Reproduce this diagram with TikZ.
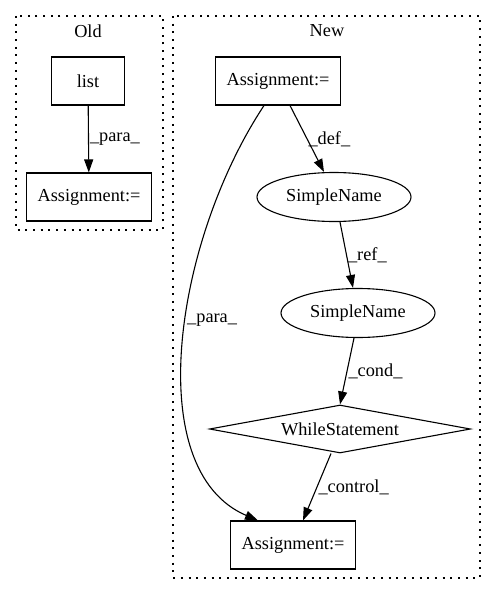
\documentclass[tikz,border=0pt]{standalone}
\usepackage{fontspec}
\setmainfont{Liberation Serif}
\usetikzlibrary{positioning,shapes.geometric,arrows.meta}

\begin{document}
\begin{tikzpicture}[x=1pt,y=-1pt,
    every node/.style={font=\fontsize{18.3}{22}\selectfont},
    box/.style={draw, line width=1.1pt, minimum height=48pt, inner xsep=11.5pt},
    ellip/.style={draw, ellipse, line width=1.1pt, minimum width=154pt, minimum height=49pt, inner sep=0pt},
    diam/.style={draw, diamond, aspect=5.4, line width=1.1pt, minimum width=261pt, minimum height=48pt, inner sep=0pt},
    cluster/.style={line width=1.1pt, dash pattern=on 2pt off 5.7pt},
    edge/.style={line width=1.1pt, -{Triangle[length=13pt,width=9pt]}},
    lab/.style={anchor=west, inner sep=1pt}]
  \useasboundingbox (0,0) rectangle (496,596);
  % clusters
  \draw[cluster] (16,16) rectangle (163,230);
  \draw[cluster] (173,16) rectangle (480,578);
  \node (oldTitle) at (88,31) {Old};
  \node (newTitle) at (327,31) {New};
  % Old
  \node[box, minimum width=73pt] (list) at (88,81) {list};
  \node[box] (oldAssign) at (89,197) {Assignment:=};
  \draw[edge] (list) -- (oldAssign) node[lab, midway] {\_para\_};
  % New
  \node[box] (topAssign) at (278,81) {Assignment:=};
  \node[ellip] (nameA) at (334,197) {SimpleName};
  \node[ellip] (nameB) at (358,313) {SimpleName};
  \node[diam] (whileStmt) at (340,429) {WhileStatement};
  \node[box] (botAssign) at (293,545) {Assignment:=};
  \draw[edge] ([xshift=12pt]topAssign.south) -- ([xshift=-10pt]nameA.north) node[lab, midway] {\_def\_};
  \draw[edge] ([xshift=6pt]nameA.south) -- ([xshift=-5pt]nameB.north) node[lab, midway] {\_ref\_};
  \draw[edge] ([xshift=-4pt]nameB.south) -- (whileStmt.north) node[lab, midway] {\_cond\_};
  \draw[edge] ([xshift=-9pt]whileStmt.south) -- ([xshift=10pt]botAssign.north) node[lab, midway] {\_control\_};
  \draw[edge] ([xshift=-14pt]topAssign.south) .. controls (175,240) and (140,470) .. ([xshift=-35pt]botAssign.north) node[lab, pos=0.45] {\_para\_};
\end{tikzpicture}
\end{document}
